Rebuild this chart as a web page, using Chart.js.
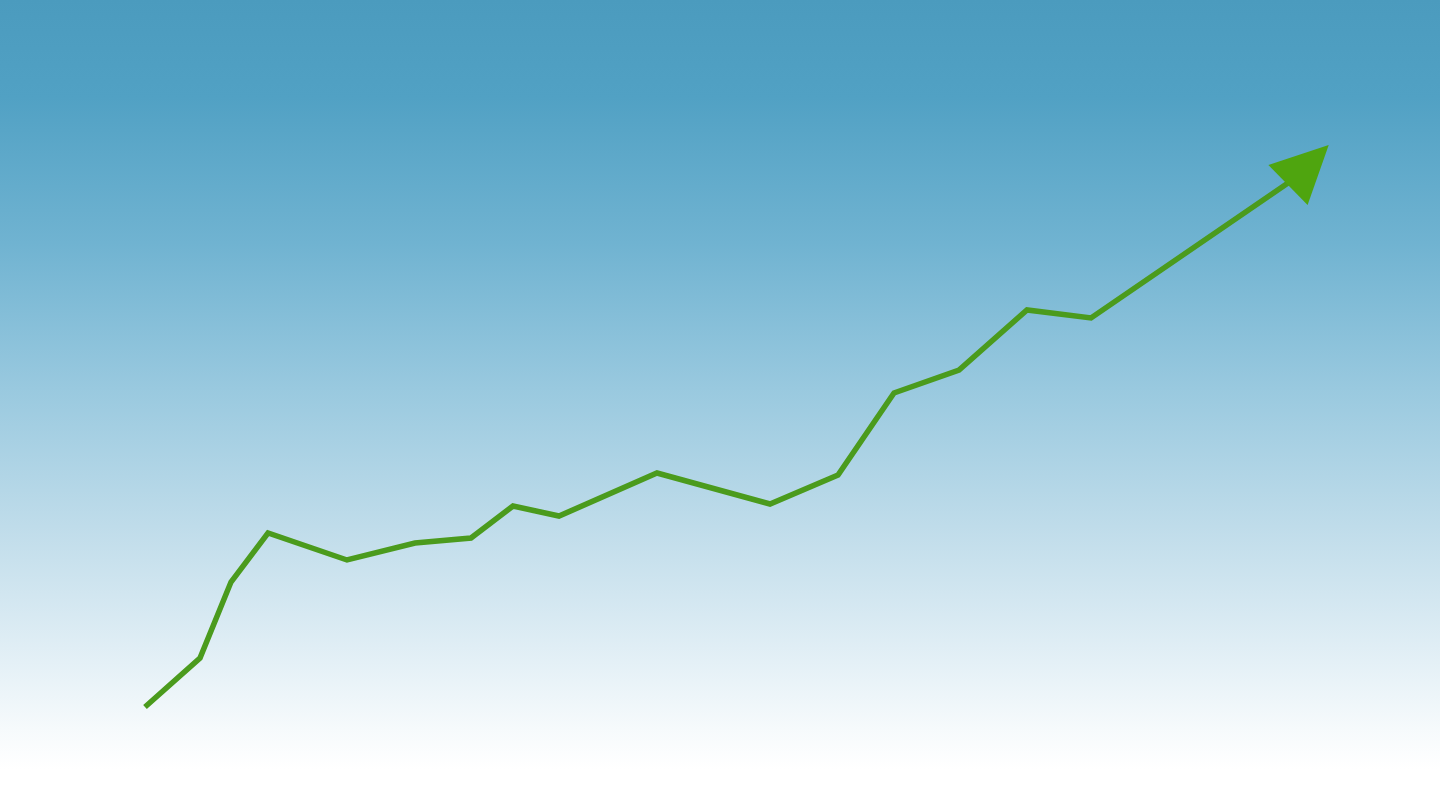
<!DOCTYPE html>
<html>
<head>
<meta charset="utf-8">
<script src="https://cdn.jsdelivr.net/npm/chart.js@4/dist/chart.umd.min.js"></script>
<style>
  html, body { margin: 0; padding: 0; background: #ffffff; }
  #wrap { width: 1440px; height: 810px; position: relative; }
</style>
</head>
<body>
<div id="wrap"><canvas id="c" width="1440" height="810"></canvas></div>
<script>
// Data (x positions and values, arbitrary units)
const xValues = [145, 200, 231, 268, 347, 415, 471, 513, 559, 657, 770, 838, 894, 959, 1027, 1091, 1288];
const yValues = [103, 152, 228, 277, 250, 267, 272, 304, 294, 337, 306, 335, 417, 440, 500, 492, 627];

const points = xValues.map((x, i) => ({ x: x, y: yValues[i] }));

const bgPlugin = {
  id: 'bg',
  beforeDraw(chart) {
    const ctx = chart.ctx;
    const h = chart.height, w = chart.width;
    const g = ctx.createLinearGradient(0, 0, 0, h);
    g.addColorStop(0.0, '#4b9bbe');
    g.addColorStop(0.12, '#51a1c4');
    g.addColorStop(0.3, '#70b3d1');
    g.addColorStop(0.48, '#99c9df');
    g.addColorStop(0.65, '#bfdcea');
    g.addColorStop(0.8, '#e0eef5');
    g.addColorStop(0.9, '#f6fafc');
    g.addColorStop(0.95, '#ffffff');
    g.addColorStop(1.0, '#ffffff');
    ctx.save();
    ctx.fillStyle = g;
    ctx.fillRect(0, 0, w, h);
    ctx.restore();
  }
};

const arrowPlugin = {
  id: 'arrowHead',
  afterDatasetsDraw(chart) {
    const meta = chart.getDatasetMeta(0);
    const n = meta.data.length;
    if (n < 2) return;
    const p1 = meta.data[n - 2], p2 = meta.data[n - 1];
    const ang = Math.atan2(p2.y - p1.y, p2.x - p1.x) - 10 * Math.PI / 180;
    const len = 57, half = 28;
    const dx = Math.cos(ang), dy = Math.sin(ang);
    const bx = p2.x, by = p2.y + 2;
    const ctx = chart.ctx;
    ctx.save();
    ctx.beginPath();
    ctx.moveTo(bx + dx * len, by + dy * len);
    ctx.lineTo(bx - dy * half, by + dx * half);
    ctx.lineTo(bx + dy * half, by - dx * half);
    ctx.closePath();
    ctx.fillStyle = '#4fa50f';
    ctx.fill();
    ctx.restore();
  }
};

new Chart(document.getElementById('c'), {
  type: 'line',
  data: {
    datasets: [{
      data: points,
      borderColor: '#4b9b1d',
      borderWidth: 5.5,
      borderJoinStyle: 'miter',
      borderCapStyle: 'butt',
      pointRadius: 0,
      fill: false,
      tension: 0
    }]
  },
  options: {
    responsive: false,
    animation: false,
    layout: { padding: 0 },
    plugins: { legend: { display: false }, tooltip: { enabled: false } },
    scales: {
      x: { type: 'linear', min: 0, max: 1440, display: false },
      y: { type: 'linear', min: 0, max: 810, display: false }
    }
  },
  plugins: [bgPlugin, arrowPlugin]
});
</script>
</body>
</html>
